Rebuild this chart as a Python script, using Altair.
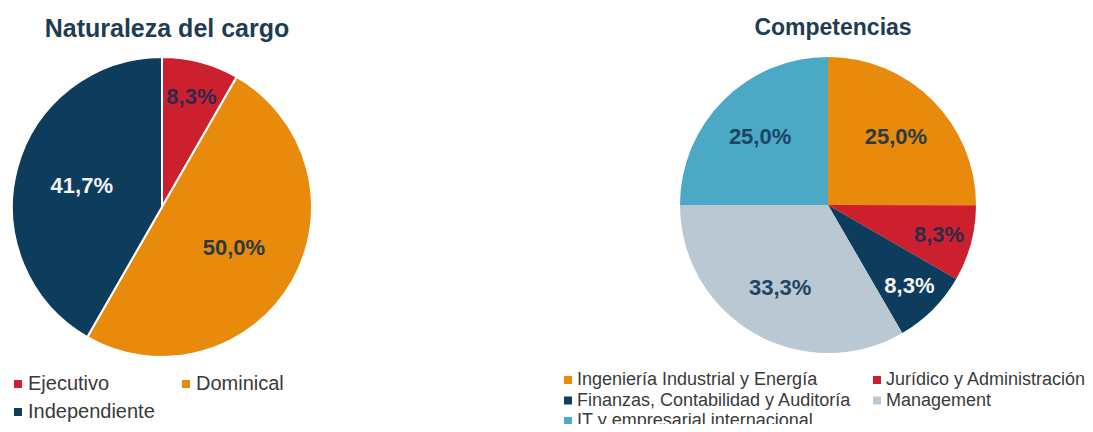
import altair as alt
import pandas as pd

# ---- data ----
left_title = "Naturaleza del cargo"
left_cats = ["Ejecutivo", "Dominical", "Independiente"]
left_vals = [8.3, 50.0, 41.7]

right_title = "Competencias"
right_cats = [
    "Ingeniería Industrial y Energía",
    "Jurídico y Administración",
    "Finanzas, Contabilidad y Auditoría",
    "Management",
    "IT y empresarial internacional",
]
right_vals = [25.0, 8.3, 8.3, 33.3, 25.0]

# ---- styles ----
RED, ORANGE, NAVY, GREY, TEAL = "#cd202e", "#e88a0c", "#0d3c5d", "#b9c8d2", "#4ba9c5"
left_colors = [RED, ORANGE, NAVY]
right_colors = [ORANGE, RED, NAVY, GREY, TEAL]
left_label_colors = ["#2d2a4a", "#2e3a3e", "#f4f4f4"]
right_label_colors = ["#2e3a3e", "#2d2a4a", "#f4f4f4", "#1d4566", "#1a4566"]

FONT = "Liberation Sans"
TITLE_COLOR = "#1f3d52"
LEGEND_TEXT = "#3a3a3a"


def pie(cats, vals, colors, lcolors, title, size, legend, small_r, big_r, stroke_w,
        t_offset, t_size):
    df = pd.DataFrame({"cat": cats, "value": vals, "idx": list(range(len(cats))), "lc": lcolors})
    base = alt.Chart(df)
    arc = base.mark_arc(radius=size / 2, stroke="white", strokeWidth=stroke_w).encode(
        theta=alt.Theta("value:Q", stack=True),
        order=alt.Order("idx:Q"),
        color=alt.Color("cat:N", scale=alt.Scale(domain=cats, range=colors), sort=cats, legend=legend),
    )
    text = (
        base.transform_stack(stack="value", groupby=[], as_=["v0", "v1"], sort=[alt.SortField("idx")])
        .transform_calculate(
            mid="(datum.v0 + datum.v1) / 2",
            label="replace(format(datum.value, '.1f'), '.', ',') + '%'",
            r=f"datum.value < 10 ? {small_r} : {big_r}",
        )
        .mark_text(fontSize=22, fontWeight="bold", font=FONT)
        .encode(
            theta=alt.Theta("mid:Q", stack=None),
            text="label:N",
            radius=alt.Radius("r:Q", scale=None),
            fill=alt.Fill("lc:N", scale=None),
        )
    )
    return alt.layer(arc, text).properties(
        width=size,
        height=size,
        title=alt.Title(
            title, fontSize=t_size, font=FONT, fontWeight="bold", color=TITLE_COLOR,
            anchor="middle", frame="group", offset=t_offset, dx=5,
        ),
    )


left_legend = alt.Legend(
    title=None, orient="none", direction="horizontal", legendX=-4, legendY=317, columns=2,
    columnPadding=21, rowPadding=8, symbolType="square", symbolSize=64,
    symbolStrokeWidth=0, labelFontSize=20, labelFont=FONT, labelColor=LEGEND_TEXT,
    labelOffset=0, labelLimit=500,
)
right_legend = alt.Legend(
    title=None, orient="none", direction="horizontal", legendX=-121, legendY=314, columns=2,
    columnPadding=16, rowPadding=2.5, symbolType="square", symbolSize=64,
    symbolStrokeWidth=0, labelFontSize=18, labelFont=FONT, labelColor=LEGEND_TEXT,
    labelOffset=0, labelLimit=500,
)

left = pie(left_cats, left_vals, left_colors, left_label_colors, left_title, 300,
           left_legend, 114, 83, 2, 11, 25)
right = pie(right_cats, right_vals, right_colors, right_label_colors, right_title, 296,
            right_legend, 115, 96, 0, 17, 23)

chart = (
    alt.hconcat(left, right, spacing=368, bounds="flush")
    .resolve_scale(color="independent", fill="independent", theta="independent", radius="independent")
    .properties(padding={"left": 0, "top": 9, "right": -2, "bottom": -6})
    .configure_view(stroke=None)
)

chart.save("out.html", embed_options={"renderer": "svg", "actions": False})
